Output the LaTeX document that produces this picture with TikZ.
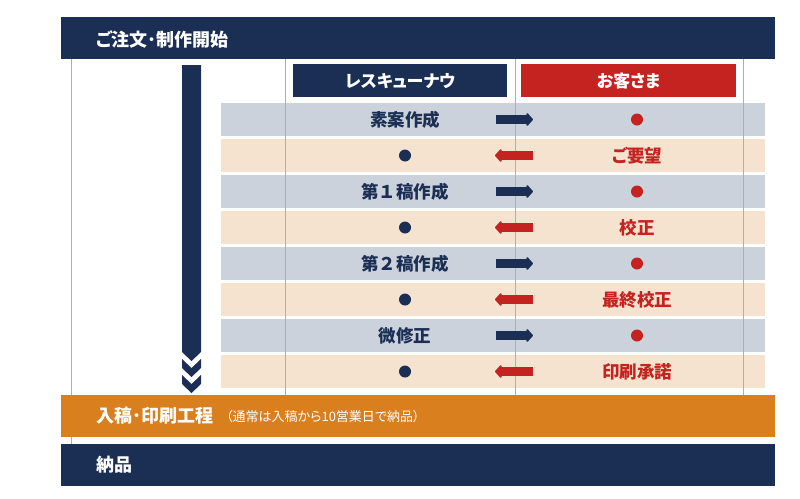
\documentclass[tikz,border=0pt]{standalone}
\usepackage{fontspec}
\setmainfont{Noto Sans CJK JP}[RawFeature=+palt]
\newfontfamily\fullwidth{Noto Sans CJK JP}
\usetikzlibrary{arrows.meta}
\definecolor{navy}{HTML}{1B2F54}
\definecolor{redc}{HTML}{C4231F}
\definecolor{rowgray}{HTML}{CBD2DB}
\definecolor{rowbeige}{HTML}{F5E3CF}
\definecolor{orangec}{HTML}{D97F1E}
\definecolor{linegray}{HTML}{A8AFBD}
\tikzset{
  bar/.style={anchor=north west, minimum height=42pt, minimum width=714pt, inner sep=0pt},
  bartext/.style={anchor=west, inner sep=0pt, text=white, font=\fontsize{18}{20}\selectfont\bfseries},
  hdr/.style={anchor=north west, minimum height=33pt, minimum width=214pt, inner sep=0pt, text=white, font=\fontsize{17}{19}\selectfont\bfseries},
  rowbox/.style={anchor=north west, minimum height=33pt, minimum width=544pt, inner sep=0pt},
  ltext/.style={text=navy, font=\fontsize{17.5}{19}\selectfont\bfseries},
  rtext/.style={text=redc, font=\fontsize{17.5}{19}\selectfont\bfseries},
  gline/.style={draw=linegray, line width=0.8pt},
  dotn/.style={circle, fill=navy, minimum size=12pt, inner sep=0pt},
  dotr/.style={circle, fill=redc, minimum size=12pt, inner sep=0pt},
  fwd/.style={-{Triangle[length=7pt,width=15pt,round]}, line width=8.5pt, draw=navy},
  bwd/.style={-{Triangle[length=7pt,width=15pt,round]}, line width=8.5pt, draw=redc},
}
\begin{document}
\begin{tikzpicture}[x=1pt,y=-1pt]
\useasboundingbox (0,0) rectangle (800,498);
% vertical gray lines
\foreach \x/\n in {71/a,285/b,515/c,743/d} {
  \coordinate (l\n1) at (\x,59);
  \coordinate (l\n2) at (\x,395);
}
\coordinate (la3) at (71,444);
% rows
\foreach \i/\c in {0/rowgray,1/rowbeige,2/rowgray,3/rowbeige,4/rowgray,5/rowbeige,6/rowgray,7/rowbeige} {
  \node[rowbox, fill=\c] (row\i) at (221,103+36*\i) {};
}
\draw[gline] (la1) -- (la3);
\draw[gline] (lb1) -- (lb2);
\draw[gline] (lc1) -- (lc2);
\draw[gline] (ld1) -- (ld2);
% top bar
\node[bar, fill=navy] (top) at (61,17) {};
\node[bartext] (toptext) at (96,39.5) {ご注文･制作開始};
% headers
\node[hdr, fill=navy] (hl) at (293,64) {レスキューナウ};
\node[hdr, fill=redc, minimum width=215pt] (hr) at (521,64) {お客さま};
% vertical bar with chevrons
\fill[navy] (182,65) -- (201,65) -- (201,352) -- (191.5,361) -- (182,352) -- cycle;
\fill[navy] (182,359) -- (191.5,368) -- (201,359) -- (201,368) -- (191.5,377) -- (182,368) -- cycle;
\fill[navy] (182,375) -- (191.5,384) -- (201,375) -- (201,384) -- (191.5,393) -- (182,384) -- cycle;
% row contents
\node[ltext] (t0) at (405,119.5) {素案作成};
\node[dotr] (d0) at (637,119.5) {};
\node[dotn] (d1) at (405,155.5) {};
\node[rtext] (t1) at (637,155.5) {ご要望};
\node[ltext] (t2) at (405,191.5) {\fullwidth 第１稿作成};
\node[dotr] (d2) at (637,191.5) {};
\node[dotn] (d3) at (405,227.5) {};
\node[rtext] (t3) at (637,227.5) {校正};
\node[ltext] (t4) at (405,263.5) {\fullwidth 第２稿作成};
\node[dotr] (d4) at (637,263.5) {};
\node[dotn] (d5) at (405,299.5) {};
\node[rtext] (t5) at (637,299.5) {最終校正};
\node[ltext] (t6) at (405,335.5) {微修正};
\node[dotr] (d6) at (637,335.5) {};
\node[dotn] (d7) at (405,371.5) {};
\node[rtext] (t7) at (637,371.5) {印刷承諾};
% arrows
\foreach \i in {0,2,4,6} {
  \coordinate (as\i) at (496,119.5+36*\i);
  \coordinate (ae\i) at (533,119.5+36*\i);
  \draw[fwd] (as\i) -- (ae\i);
}
\foreach \i in {1,3,5,7} {
  \coordinate (bs\i) at (533,119.5+36*\i);
  \coordinate (be\i) at (495,119.5+36*\i);
  \draw[bwd] (bs\i) -- (be\i);
}
% orange bar
\node[bar, fill=orangec] (mid) at (61,395) {};
\node[bartext] (midtext) at (96,416) {入稿･印刷工程};
\node[anchor=west, inner sep=0pt, text=white, font=\fontsize{13}{15}\selectfont] (midsub) at (226,417) {（通常は入稿から10営業日で納品）};
% bottom bar
\node[bar, fill=navy] (bot) at (61,444) {};
\node[bartext] (bottext) at (96,465) {納品};
\end{tikzpicture}
\end{document}
